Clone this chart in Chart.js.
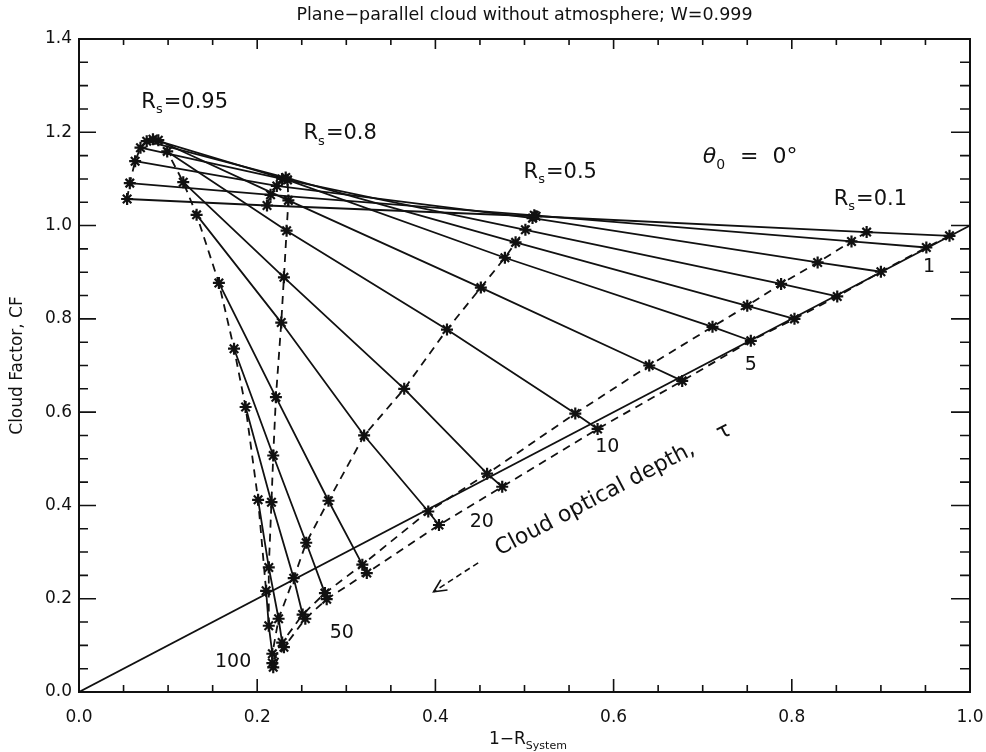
<!DOCTYPE html>
<html>
<head>
<meta charset="utf-8">
<script src="https://cdn.jsdelivr.net/npm/chart.js"></script>
<style>
  html, body { margin: 0; padding: 0; background: #fff; }
  canvas { display: block; }
</style>
</head>
<body>
<canvas id="cf-chart" width="986" height="752"></canvas>
<script>
// cloud optical depth of each solid line (one value per index below)
const tauValues = [0.5, 1, 2, 3, 4, 5, 7, 10, 15, 20, 30, 40, 50, 70, 100];

// x = 1 - R_system, y = cloud factor for each surface albedo
const rs000X = [0.977, 0.951, 0.900, 0.851, 0.803, 0.754, 0.677, 0.582, 0.475, 0.404, 0.323, 0.278, 0.254, 0.230, 0.218];
const rs000Y = [0.978, 0.953, 0.901, 0.848, 0.800, 0.753, 0.667, 0.564, 0.440, 0.358, 0.255, 0.199, 0.157, 0.096, 0.053];
const rs010X = [0.884, 0.867, 0.829, 0.788, 0.750, 0.711, 0.640, 0.557, 0.458, 0.392, 0.318, 0.276, 0.251, 0.228, 0.217];
const rs010Y = [0.986, 0.966, 0.921, 0.875, 0.828, 0.783, 0.700, 0.597, 0.468, 0.387, 0.273, 0.212, 0.166, 0.106, 0.062];
const rs050X = [0.513, 0.511, 0.509, 0.501, 0.490, 0.478, 0.451, 0.413, 0.365, 0.320, 0.280, 0.255, 0.241, 0.224, 0.217];
const rs050Y = [1.020, 1.022, 1.016, 0.991, 0.964, 0.931, 0.867, 0.777, 0.650, 0.550, 0.410, 0.320, 0.244, 0.157, 0.082];
const rs080X = [0.211, 0.215, 0.222, 0.228, 0.232, 0.234, 0.235, 0.233, 0.230, 0.227, 0.221, 0.218, 0.216, 0.213, 0.213];
const rs080Y = [1.043, 1.066, 1.085, 1.100, 1.103, 1.098, 1.054, 0.989, 0.889, 0.792, 0.632, 0.507, 0.407, 0.267, 0.142];
const rs095X = [0.054, 0.057, 0.063, 0.069, 0.076, 0.083, 0.089, 0.099, 0.117, 0.132, 0.157, 0.174, 0.187, 0.201, 0.210];
const rs095Y = [1.057, 1.091, 1.138, 1.167, 1.181, 1.185, 1.183, 1.159, 1.093, 1.023, 0.877, 0.736, 0.611, 0.412, 0.217];

const diagX = [0, 1];
const diagY = [0, 1];

const xTicks = [0, 0.2, 0.4, 0.6, 0.8, 1.0];
const yTicks = [0, 0.2, 0.4, 0.6, 0.8, 1.0, 1.2, 1.4];

const albedoCurves = [
  { label: "Rs=0", xs: rs000X, ys: rs000Y },
  { label: "Rs=0.1", xs: rs010X, ys: rs010Y },
  { label: "Rs=0.5", xs: rs050X, ys: rs050Y },
  { label: "Rs=0.8", xs: rs080X, ys: rs080Y },
  { label: "Rs=0.95", xs: rs095X, ys: rs095Y }
];

// tau labels: [text, x, y] (data coords)
const tauLabels = [
  ["1", 0.954, 0.912],
  ["5", 0.754, 0.702],
  ["10", 0.593, 0.526],
  ["20", 0.452, 0.365],
  ["50", 0.295, 0.126],
  ["100", 0.173, 0.065]
];

// surface albedo labels: [value text, left x, baseline y]
const albedoLabels = [
  ["=0.95", 0.070, 1.253],
  ["=0.8", 0.252, 1.185],
  ["=0.5", 0.499, 1.103],
  ["=0.1", 0.847, 1.045]
];

const FONT = "DejaVu Sans";
const INK = "#111";

function toPoints(xs, ys) {
  return xs.map((x, i) => ({ x, y: ys[i] }));
}

function buildDatasets() {
  const sets = [];

  sets.push({
    label: "1:1",
    data: toPoints(diagX, diagY),
    showLine: true,
    borderColor: INK,
    borderWidth: 1.8,
    pointRadius: 0
  });

  tauValues.forEach((tau, i) => {
    sets.push({
      label: `tau=${tau}`,
      data: albedoCurves.map((c) => ({ x: c.xs[i], y: c.ys[i] })),
      showLine: true,
      borderColor: INK,
      borderWidth: 1.8,
      pointRadius: 0
    });
  });

  albedoCurves.forEach((c) => {
    sets.push({
      label: c.label,
      data: toPoints(c.xs, c.ys),
      showLine: true,
      borderColor: INK,
      borderWidth: 1.8,
      borderDash: [8, 6],
      pointStyle: "star",
      pointRadius: 6,
      pointBorderWidth: 2.2,
      pointBorderColor: INK,
      pointBackgroundColor: INK
    });
  });

  return sets;
}

function drawSub(ctx, x, y, base, sub, rest, size, italicBase) {
  ctx.font = `${italicBase ? "italic " : ""}${size}px ${FONT}`;
  ctx.fillText(base, x, y);
  let cx = x + ctx.measureText(base).width;
  ctx.font = `${Math.round(size * 0.62)}px ${FONT}`;
  ctx.fillText(sub, cx, y + size * 0.28);
  cx += ctx.measureText(sub).width + 1;
  ctx.font = `${size}px ${FONT}`;
  ctx.fillText(rest, cx, y);
}

const framePlugin = {
  id: "frame",
  afterDraw(chart) {
    const { ctx, chartArea: a, scales } = chart;
    const sx = scales.x;
    const sy = scales.y;
    ctx.save();
    ctx.strokeStyle = INK;
    ctx.fillStyle = INK;

    ctx.lineWidth = 2;
    ctx.strokeRect(a.left, a.top, a.right - a.left, a.bottom - a.top);

    // inward ticks, minor every 0.05
    ctx.lineWidth = 1.6;
    ctx.beginPath();
    for (let k = 0; k <= 20; k++) {
      const v = k * 0.05;
      const major = k % 4 === 0;
      const px = sx.getPixelForValue(v);
      ctx.moveTo(px, a.bottom);
      ctx.lineTo(px, a.bottom - (major ? 13 : 7));
      ctx.moveTo(px, a.top);
      ctx.lineTo(px, a.top + (major ? 10 : 6));
    }
    for (let k = 0; k <= 28; k++) {
      const v = k * 0.05;
      const major = k % 4 === 0;
      const py = sy.getPixelForValue(v);
      ctx.moveTo(a.left, py);
      ctx.lineTo(a.left + (major ? 17 : 9), py);
      ctx.moveTo(a.right, py);
      ctx.lineTo(a.right - (major ? 19 : 10), py);
    }
    ctx.stroke();

    // title
    ctx.textAlign = "center";
    ctx.textBaseline = "middle";
    ctx.font = `17.5px ${FONT}`;
    ctx.fillText("Plane\u2212parallel cloud without atmosphere; W=0.999", (a.left + a.right) / 2, 15);

    // y axis title
    ctx.save();
    ctx.translate(18, (a.top + a.bottom) / 2);
    ctx.rotate(-Math.PI / 2);
    ctx.font = `17px ${FONT}`;
    ctx.fillText("Cloud Factor, CF", 0, 0);
    ctx.restore();

    // x axis title 1-R_System
    ctx.textAlign = "left";
    ctx.textBaseline = "alphabetic";
    drawSub(ctx, 489, 744, "1\u2212R", "System", "", 17, false);

    // tau labels
    ctx.textAlign = "center";
    ctx.textBaseline = "middle";
    ctx.font = `19px ${FONT}`;
    tauLabels.forEach(([t, x, y]) => {
      ctx.fillText(t, sx.getPixelForValue(x), sy.getPixelForValue(y));
    });

    // albedo labels
    ctx.textAlign = "left";
    ctx.textBaseline = "alphabetic";
    albedoLabels.forEach(([t, x, y]) => {
      drawSub(ctx, sx.getPixelForValue(x), sy.getPixelForValue(y), "R", "s", t, 21, false);
    });

    // solar zenith angle
    drawSub(ctx, sx.getPixelForValue(0.70), sy.getPixelForValue(1.135), "\u03b8", "0", "  =  0\u00b0", 22, true);

    // optical depth caption along the diagonal
    const angle = Math.atan2(sy.getPixelForValue(1) - sy.getPixelForValue(0), sx.getPixelForValue(1) - sx.getPixelForValue(0));
    ctx.save();
    ctx.translate(sx.getPixelForValue(0.472), sy.getPixelForValue(0.292));
    ctx.rotate(angle);
    ctx.font = `22px ${FONT}`;
    ctx.fillText("Cloud optical depth,    \u03c4", 0, 0);
    ctx.restore();

    // dashed arrow pointing to large tau
    const ax0 = sx.getPixelForValue(0.448), ay0 = sy.getPixelForValue(0.277);
    const ax1 = sx.getPixelForValue(0.398), ay1 = sy.getPixelForValue(0.215);
    ctx.lineWidth = 1.6;
    ctx.setLineDash([6, 4]);
    ctx.beginPath();
    ctx.moveTo(ax0, ay0);
    ctx.lineTo(ax1, ay1);
    ctx.stroke();
    ctx.setLineDash([]);
    const dir = Math.atan2(ay1 - ay0, ax1 - ax0);
    ctx.beginPath();
    ctx.moveTo(ax1 + 14 * Math.cos(dir + Math.PI - 0.45), ay1 + 14 * Math.sin(dir + Math.PI - 0.45));
    ctx.lineTo(ax1, ay1);
    ctx.lineTo(ax1 + 14 * Math.cos(dir + Math.PI + 0.45), ay1 + 14 * Math.sin(dir + Math.PI + 0.45));
    ctx.stroke();

    ctx.restore();
  }
};

new Chart(document.getElementById("cf-chart"), {
  type: "scatter",
  data: { datasets: buildDatasets() },
  options: {
    responsive: false,
    devicePixelRatio: 1,
    animation: false,
    layout: { padding: { top: 39, right: 16, left: 0, bottom: 0 } },
    plugins: { legend: { display: false }, tooltip: { enabled: false } },
    scales: {
      x: {
        type: "linear",
        min: 0,
        max: 1,
        afterBuildTicks: (scale) => { scale.ticks = xTicks.map((v) => ({ value: v })); },
        afterFit: (scale) => {
          scale.height = 60;
          scale.paddingLeft = 0;
          scale.paddingRight = 0;
        },
        grid: { display: false, drawTicks: false },
        border: { display: false },
        ticks: {
          color: INK,
          padding: 15,
          maxRotation: 0,
          font: { family: FONT, size: 17 },
          callback: (v) => Number(v).toFixed(1)
        }
      },
      y: {
        type: "linear",
        min: 0,
        max: 1.4,
        afterBuildTicks: (scale) => { scale.ticks = yTicks.map((v) => ({ value: v })); },
        afterFit: (scale) => {
          scale.width = 79;
          scale.paddingTop = 0;
          scale.paddingBottom = 0;
        },
        grid: { display: false, drawTicks: false },
        border: { display: false },
        ticks: {
          color: INK,
          padding: 7,
          font: { family: FONT, size: 17 },
          callback: (v) => Number(v).toFixed(1)
        }
      }
    }
  },
  plugins: [framePlugin]
});
</script>
</body>
</html>
